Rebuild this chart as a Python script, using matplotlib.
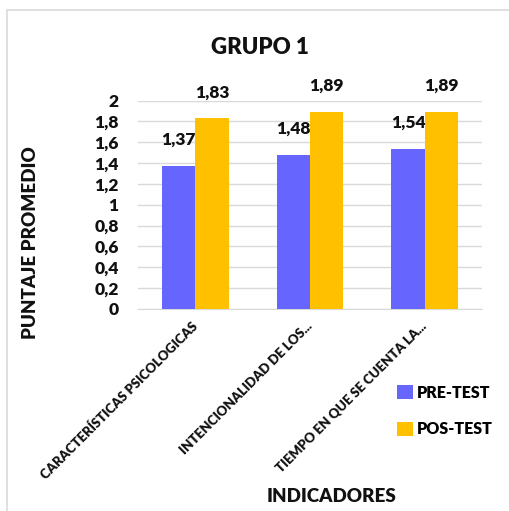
import matplotlib
matplotlib.use("Agg")
import matplotlib.pyplot as plt
import numpy as np
from matplotlib.patches import Rectangle
import matplotlib.transforms as mtransforms

categories = ["CARACTERÍSTICAS PSICOLOGICAS", "INTENCIONALIDAD DE LOS...", "TIEMPO EN QUE SE CUENTA LA..."]
pre_test = [1.37, 1.48, 1.54]
pos_test = [1.83, 1.89, 1.89]
series_names = ["PRE-TEST", "POS-TEST"]
yticks = [0, 0.2, 0.4, 0.6, 0.8, 1, 1.2, 1.4, 1.6, 1.8, 2]
ytick_labels = ["0", "0,2", "0,4", "0,6", "0,8", "1", "1,2", "1,4", "1,6", "1,8", "2"]

WEIGHT = "heavy"
plt.rcParams['font.family'] = ['Lato', 'DejaVu Sans']
plt.rcParams['font.weight'] = WEIGHT
TXT = "#111111"

W, H = 509, 511
fig = plt.figure(figsize=(W / 100, H / 100), dpi=100)

# chart frame
fig.patches.append(Rectangle((7 / W, -0.1), 1.2, 1 - 10 / H + 0.1, transform=fig.transFigure,
                             fill=False, edgecolor="#d9d9d9", linewidth=1.2))

ax = fig.add_axes([138 / W, 1 - 308.7 / H, (482 - 138) / W, (308.7 - 100.7) / H])

x = np.arange(len(categories))
bw = 0.292
c_pre = "#6666FF"
c_pos = "#FFC000"
b1 = ax.bar(x - bw / 2, pre_test, bw, color=c_pre, label=series_names[0], zorder=3)
b2 = ax.bar(x + bw / 2, pos_test, bw, color=c_pos, label=series_names[1], zorder=3)

for bars, vals in ((b1, pre_test), (b2, pos_test)):
    for r, v in zip(bars, vals):
        ax.annotate(f"{v:.2f}".replace(".", ","), (r.get_x() + r.get_width() / 2, v),
                    xytext=(0, 13), textcoords="offset points", ha="center", va="bottom",
                    fontsize=12.5, fontweight=WEIGHT, color=TXT)

ax.set_xlim(-0.5, 2.5)
ax.set_ylim(0, 2)
ax.set_yticks(yticks)
ax.set_yticklabels(ytick_labels, fontsize=12.5, fontweight=WEIGHT, color=TXT)
ax.yaxis.grid(True, color="#d9d9d9", linewidth=1, zorder=0)
ax.set_xticks(x)
ax.set_xticklabels(categories, rotation=45, ha="right", va="center", rotation_mode="anchor",
                   fontsize=9.5, fontweight=WEIGHT, color=TXT)
shift = mtransforms.ScaledTranslation(1 / 100, 0, fig.dpi_scale_trans)
for lbl in ax.get_xticklabels():
    lbl.set_transform(lbl.get_transform() + shift)
ax.tick_params(axis="y", length=0, pad=14)
ax.tick_params(axis="x", length=0, pad=11)
for s in ["top", "right", "left"]:
    ax.spines[s].set_visible(False)
ax.spines["bottom"].set_color("#d9d9d9")

fig.text(260 / W, 1 - 47 / H, "GRUPO 1", ha="center", va="center", fontsize=16, fontweight=WEIGHT, color=TXT)
fig.text(31 / W, 1 - 243 / H, "PUNTAJE PROMEDIO", ha="center", va="center", rotation=90,
         fontsize=13.5, fontweight=WEIGHT, color=TXT)
fig.text(332 / W, 1 - 496 / H, "INDICADORES", ha="center", va="center", fontsize=13.5,
         fontweight=WEIGHT, color=TXT)

fig.legend(handles=[b1, b2], labels=series_names, loc="center left",
           bbox_to_anchor=(383 / W, 1 - 411 / H), frameon=False,
           handlelength=0.95, handleheight=0.95, handletextpad=0.3, labelspacing=1.3,
           prop={"weight": WEIGHT, "size": 11.5})

fig.savefig("out.png", dpi=100)
